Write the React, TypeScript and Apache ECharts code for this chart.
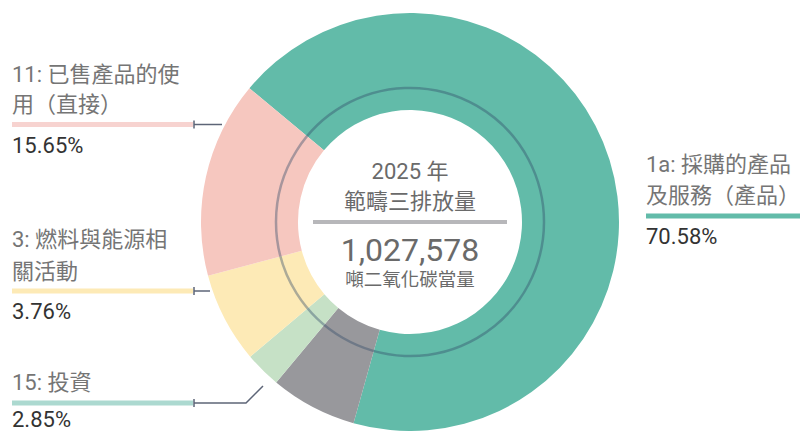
import React, { useEffect, useRef } from "react";
import * as echarts from "echarts";

const categories = ["1a: 採購的產品及服務（產品）", "其他", "15: 投資", "3: 燃料與能源相關活動", "11: 已售產品的使用（直接）"];
const sliceValues = [68.3, 6.7, 2.8, 7.0, 15.2];
const sliceColors = ["#62bba9", "#98989c", "#c6e1c6", "#fdeab6", "#f6c7bf"];
const percentLabels = ["70.58%", "", "2.85%", "3.76%", "15.65%"];
const titleLines = [["1a: 採購的產品", "及服務（產品）"], [], ["15: 投資"], ["3: 燃料與能源相", "關活動"], ["11: 已售產品的使", "用（直接）"]];
const barColors = ["#62bba9", "", "#acd9d0", "#fdeab6", "#f7d3d0"];
const centerYear = "2025 年";
const centerTitle = "範疇三排放量";
const centerValue = "1,027,578";
const centerUnit = "噸二氧化碳當量";

const FONT = "Roboto, 'Noto Sans CJK TC', sans-serif";

// layout of annotation blocks (positions only)
const blocks: Record<number, { x: number; lineYs: number[]; barY: number; barX2: number; pctY: number; leader?: number[][] }> = {
  0: { x: 646, lineYs: [164, 195], barY: 216, barX2: 800, pctY: 236 },
  2: { x: 12, lineYs: [382], barY: 403, barX2: 193, pctY: 419, leader: [[194, 403], [246, 403], [263, 386]] },
  3: { x: 12, lineYs: [239, 271], barY: 291, barX2: 193, pctY: 311, leader: [[194, 291], [210, 291]] },
  4: { x: 12, lineYs: [74, 104], barY: 124.5, barX2: 193, pctY: 145, leader: [[194, 124.5], [222, 124.5]] },
};

export default function App() {
  const ref = useRef<HTMLDivElement>(null);
  useEffect(() => {
    document.body.style.margin = "0";
    const chart = echarts.init(ref.current!, null, { renderer: "svg" });
    const graphics: any[] = [];
    Object.keys(blocks).forEach((k) => {
      const i = Number(k);
      const b = blocks[i];
      titleLines[i].forEach((t, j) => {
        graphics.push({
          type: "text", z: 100, x: b.x, y: b.lineYs[j],
          style: { text: t, fill: "#757575", font: `22px ${FONT}`, verticalAlign: "middle" },
        });
      });
      graphics.push({
        type: "rect", z: 100, shape: { x: b.x, y: b.barY - 2.5, width: b.barX2 - b.x, height: 5 },
        style: { fill: barColors[i] },
      });
      graphics.push({
        type: "text", z: 100, x: b.x, y: b.pctY,
        style: { text: percentLabels[i], fill: "#333333", font: `22px ${FONT}`, verticalAlign: "middle" },
      });
      if (b.leader) {
        graphics.push({
          type: "polyline", z: 100, shape: { points: b.leader },
          style: { stroke: "#5d6577", lineWidth: 1.5, fill: null },
        });
        graphics.push({
          type: "line", z: 100, shape: { x1: b.leader[0][0], y1: b.leader[0][1] - 4, x2: b.leader[0][0], y2: b.leader[0][1] + 4 },
          style: { stroke: "#5d6577", lineWidth: 1.5 },
        });
      }
    });
    graphics.push({
      type: "circle", z: 100, shape: { cx: 410, cy: 222, r: 134 },
      style: { fill: null, stroke: "rgba(50,75,105,0.4)", lineWidth: 2.5 },
    });
    const centerTexts = [
      { t: centerYear, y: 171, size: 22 },
      { t: centerTitle, y: 201, size: 22 },
      { t: centerValue, y: 250, size: 32 },
      { t: centerUnit, y: 280, size: 18.5 },
    ];
    centerTexts.forEach((c) => {
      graphics.push({
        type: "text", z: 100, x: 410, y: c.y,
        style: { text: c.t, fill: "#6a6a6a", font: `${c.size}px ${FONT}`, align: "center", verticalAlign: "middle" },
      });
    });
    graphics.push({
      type: "rect", z: 100, shape: { x: 313, y: 220, width: 194, height: 4 },
      style: { fill: "#b7b7ba" },
    });

    chart.setOption({
      animation: false,
      series: [
        {
          type: "pie",
          center: [410, 222],
          radius: [112, 209],
          startAngle: 140.2,
          clockwise: true,
          label: { show: false },
          labelLine: { show: false },
          emphasis: { disabled: true },
          itemStyle: { borderWidth: 0 },
          data: categories.map((name, i) => ({ name, value: sliceValues[i], itemStyle: { color: sliceColors[i] } })),
        },
      ],
      graphic: graphics,
    });
    return () => chart.dispose();
  }, []);
  return <div ref={ref} style={{ width: 800, height: 431 }} />;
}
